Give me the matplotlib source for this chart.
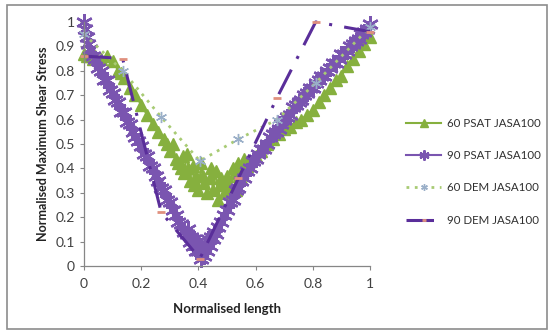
import numpy as np
import matplotlib.pyplot as plt
from matplotlib.patches import Rectangle

# 60 PSAT JASA100
psat60_x = [0.00, 0.01, 0.02, 0.03, 0.04, 0.06, 0.08, 0.10, 0.12, 0.13, 0.14, 0.16,
            0.18, 0.20, 0.22, 0.24, 0.26, 0.28, 0.29, 0.30, 0.31, 0.32, 0.33, 0.34,
            0.345, 0.35, 0.36, 0.365, 0.37, 0.38, 0.385, 0.39, 0.40, 0.41, 0.415,
            0.42, 0.43, 0.44, 0.445, 0.45, 0.46, 0.47, 0.475, 0.48, 0.49, 0.50,
            0.505, 0.51, 0.52, 0.53, 0.535, 0.54, 0.55, 0.56, 0.57, 0.58, 0.60,
            0.62, 0.64, 0.66, 0.68, 0.70, 0.72, 0.74, 0.76, 0.78, 0.80, 0.82,
            0.84, 0.86, 0.88, 0.90, 0.92, 0.94, 0.96, 0.98, 1.00]
psat60_y = [0.87, 0.86, 0.86, 0.85, 0.86, 0.85, 0.86, 0.84, 0.80, 0.79, 0.77, 0.73,
            0.70, 0.66, 0.62, 0.58, 0.55, 0.52, 0.50, 0.47, 0.50, 0.44, 0.42, 0.40,
            0.45, 0.38, 0.46, 0.40, 0.35, 0.41, 0.33, 0.37, 0.31, 0.42, 0.37,
            0.34, 0.30, 0.36, 0.40, 0.31, 0.39, 0.27, 0.33, 0.36, 0.30, 0.37,
            0.34, 0.32, 0.40, 0.31, 0.38, 0.42, 0.36, 0.44, 0.41, 0.43, 0.45,
            0.47, 0.50, 0.52, 0.54, 0.56, 0.57, 0.59, 0.60, 0.62, 0.64, 0.67,
            0.70, 0.73, 0.76, 0.78, 0.82, 0.85, 0.88, 0.91, 0.94]

# 90 PSAT JASA100
psat90_x = [0.000, 0.005, 0.010, 0.015, 0.020, 0.030, 0.040, 0.050, 0.060, 0.070,
            0.080, 0.090, 0.100, 0.110, 0.120, 0.130, 0.140, 0.150, 0.160, 0.170,
            0.180, 0.190, 0.200, 0.210, 0.220, 0.230, 0.240, 0.250, 0.260, 0.270,
            0.280, 0.290, 0.300, 0.310, 0.320, 0.330, 0.340, 0.350, 0.360, 0.365,
            0.370, 0.375, 0.380, 0.385, 0.390, 0.395, 0.400, 0.405, 0.410, 0.415,
            0.420, 0.425, 0.430, 0.435, 0.440, 0.445, 0.450, 0.455, 0.460, 0.470,
            0.480, 0.490, 0.500, 0.510, 0.520, 0.530, 0.540, 0.550, 0.560, 0.570,
            0.580, 0.590, 0.600, 0.610, 0.620, 0.630, 0.640, 0.650, 0.660, 0.670,
            0.680, 0.690, 0.700, 0.710, 0.720, 0.730, 0.740, 0.750, 0.760, 0.770,
            0.780, 0.790, 0.800, 0.810, 0.820, 0.830, 0.840, 0.850, 0.860, 0.870,
            0.880, 0.890, 0.900, 0.910, 0.920, 0.930, 0.940, 0.950, 0.960, 0.970,
            0.980, 0.990, 1.000]
psat90_y = [1.00, 0.97, 0.94, 0.91, 0.89, 0.86, 0.85, 0.81, 0.80, 0.76, 0.76, 0.72,
            0.71, 0.68, 0.67, 0.63, 0.63, 0.59, 0.58, 0.55, 0.53, 0.51, 0.49, 0.46,
            0.45, 0.41, 0.40, 0.37, 0.35, 0.32, 0.31, 0.27, 0.26, 0.23, 0.21, 0.18,
            0.17, 0.14, 0.13, 0.15, 0.10, 0.12, 0.08, 0.11, 0.06, 0.10, 0.06, 0.08,
            0.03, 0.07, 0.04, 0.09, 0.06, 0.11, 0.08, 0.12, 0.11, 0.14, 0.13, 0.16,
            0.18, 0.21, 0.23, 0.26, 0.27, 0.31, 0.32, 0.35, 0.36, 0.39, 0.40, 0.43,
            0.44, 0.46, 0.48, 0.48, 0.50, 0.53, 0.54, 0.55, 0.56, 0.58, 0.60, 0.61,
            0.62, 0.65, 0.66, 0.67, 0.68, 0.70, 0.71, 0.73, 0.73, 0.75, 0.76, 0.78,
            0.78, 0.80, 0.81, 0.83, 0.83, 0.85, 0.87, 0.87, 0.88, 0.90, 0.91, 0.92,
            0.93, 0.95, 0.96, 0.97, 0.99]

# 60 DEM JASA100
dem60_x = [0.0, 0.135, 0.27, 0.405, 0.54, 0.675, 0.81, 1.0]
dem60_y = [0.95, 0.80, 0.61, 0.43, 0.52, 0.60, 0.75, 0.98]

# 90 DEM JASA100
dem90_x = [0.0, 0.135, 0.27, 0.405, 0.54, 0.675, 0.81, 1.0]
dem90_y = [0.86, 0.85, 0.22, 0.03, 0.36, 0.69, 1.00, 0.96]

labels = ["60 PSAT JASA100", "90 PSAT JASA100", "60 DEM JASA100", "90 DEM JASA100"]
xticks = [0, 0.2, 0.4, 0.6, 0.8, 1]
yticks = [0, 0.1, 0.2, 0.3, 0.4, 0.5, 0.6, 0.7, 0.8, 0.9, 1]

plt.rcParams['font.family'] = ['Lato', 'DejaVu Sans']

fig = plt.figure(figsize=(5.54, 3.32), dpi=100)
ax = fig.add_axes([0.1516, 0.199, 0.5164, 0.735])

asterisk = (6, 2, 0)
ax.plot(psat60_x, psat60_y, color='#86B03E', lw=1.5, marker='^', ms=8.5,
        mfc='#86B03E', mec='#86B03E', label=labels[0], clip_on=False)
ax.plot(psat90_x, psat90_y, color='#7A55B0', lw=1.5, marker=asterisk, ms=12,
        mew=1.7, mec='#7A55B0', label=labels[1], clip_on=False)
ax.plot(dem60_x, dem60_y, color='#A8CB74', lw=2, ls=(0, (1, 2)), marker=asterisk,
        ms=8, mew=1.0, mec='#9AAFC8', label=labels[2], clip_on=False)
ax.plot(dem90_x, dem90_y, color='#5A2E9A', lw=2.2, ls=(0, (9, 4, 1, 4)),
        marker='_', ms=6, mew=2, mec='#E0907E', label=labels[3], clip_on=False)

ax.set_xlim(0, 1)
ax.set_ylim(0, 1)
ax.set_xticks(xticks)
ax.set_yticks(yticks)
ax.set_xticklabels([f"{v:g}" for v in xticks])
ax.set_yticklabels([f"{v:g}" for v in yticks])
ax.tick_params(colors='#868686', labelcolor='#404040', labelsize=10,
               direction='out', length=3, width=0.8)
ax.tick_params(axis='x', pad=6)
for s in ['top', 'right']:
    ax.spines[s].set_visible(False)
for s in ['left', 'bottom']:
    ax.spines[s].set_color('#868686')
    ax.spines[s].set_linewidth(0.9)

ax.set_xlabel("Normalised length", fontsize=9.5, fontweight='bold', color='#222222', labelpad=9)
ax.set_ylabel("Normalised Maximum Shear Stress", fontsize=9, fontweight='bold',
              color='#222222', labelpad=5)

leg = fig.legend(loc='center left', bbox_to_anchor=(0.715, 0.483), frameon=False,
                 fontsize=8.3, handlelength=3.0, labelspacing=1.85, handletextpad=0.5,
                 markerscale=0.6)
for t in leg.get_texts():
    t.set_color('#303030')

fig.patches.append(Rectangle((0.012, 0.01), 0.976, 0.975, transform=fig.transFigure,
                             fill=False, ec='#8C8C8C', lw=1.2))

fig.savefig("out.png", dpi=100)
